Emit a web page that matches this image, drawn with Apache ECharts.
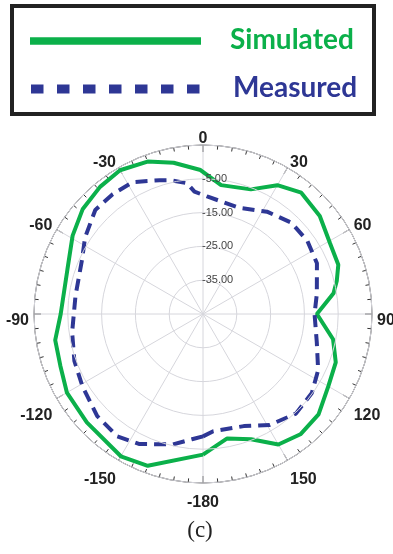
<!DOCTYPE html>
<html>
<head>
<meta charset="utf-8">
<script src="https://cdn.jsdelivr.net/npm/echarts@6/dist/echarts.min.js"></script>
<style>
  html, body { margin: 0; padding: 0; background: #fff; }
  #chart { width: 393px; height: 554px; }
</style>
</head>
<body>
<div id="chart"></div>
<script>
// series names (legend)
const seriesNames = ['Simulated', 'Measured'];

// simulated pattern: angle (deg) / gain (dB)
const simAngles = [-180, -160, -150, -133, -120, -110, -100, -90, -72, -59, -49, -39, -30, -20, -11, -1,
  8, 21, 30, 39, 50, 61, 70, 76, 81, 90, 101, 110, 120, 131, 141, 150, 159, 169, 180];
const simGain = [-3.4, 2.8, 3.6, 2.0, 1.5, -0.1, -0.6, -2.9, -2.8, 0.0, 2.2, 3.4, 4.1, 3.0, 0.6, -2.4,
  -6.5, -5.5, -1.0, 1.2, 0.1, -2.0, -2.4, -4.2, -5.9, -11.3, -5.8, -3.2, -2.2, 0.3, 0.8, -0.4, -5.3, -7.5, -3.4];

// measured pattern
const measAngles = [-180, -175, -167, -163, -154, -145, -134, -121, -110, -98, -82, -66, -57, -46, -37, -28,
  -18, -14, -7, -4, 2, 19, 32, 44, 55, 66, 80, 90, 104, 116, 126, 137, 149, 160, 175, 180];
const measGain = [-8.8, -7.8, -5.4, -4.7, -2.2, -0.8, -1.5, -3.4, -4.5, -5.9, -6.9, -5.8, -3.4, -0.7, -0.6, -0.8,
  -3.4, -4.2, -6.0, -8.7, -10.2, -11.8, -9.3, -7.4, -7.3, -8.1, -10.8, -12.0, -10.3, -7.1, -5.2, -4.7, -6.7, -9.7, -10.2, -8.8];

// radial axis (dB) and angular axis ticks
const radiusMin = -45, radiusMax = 5, radiusStep = 10;
const angleStep = 30;

const green = '#0bb04a';
const blue = '#2e3795';
const labelFont = 'Liberation Sans, Arial, sans-serif';

// polar series data: [radius, angle], negative angles wrap onto 0..360
const toPolar = (angles, gains) => angles.map((a, i) => [gains[i], a < 0 ? a + 360 : a]);
const angleLabel = (v) => (v === 180 ? '-180' : v > 180 ? String(v - 360) : String(v));

const chart = echarts.init(document.getElementById('chart'));

chart.setOption({
  animation: false,
  // second polar only carries the angle labels, sitting a bit lower like the original
  polar: [
    { center: [203, 314], radius: 169 },
    { center: [203, 321], radius: 169 },
  ],
  angleAxis: [
    {
      polarIndex: 0,
      type: 'value',
      min: 0,
      max: 360,
      interval: angleStep,
      startAngle: 90,
      clockwise: true,
      axisLine: { lineStyle: { color: '#333', width: 1 } },
      axisTick: { inside: true, length: 7, lineStyle: { color: '#333' } },
      minorTick: { show: true, splitNumber: 6, length: 4, lineStyle: { color: '#333' } },
      splitLine: { lineStyle: { color: '#d6d6dc', width: 1 } },
      axisLabel: { show: false },
    },
    {
      polarIndex: 1,
      type: 'value',
      min: 0,
      max: 360,
      interval: angleStep,
      startAngle: 90,
      clockwise: true,
      axisLine: { show: false },
      axisTick: { show: false },
      splitLine: { show: false },
      axisLabel: {
        margin: 5,
        fontFamily: labelFont,
        fontWeight: 'bold',
        fontSize: 16,
        color: '#222',
        formatter: angleLabel,
      },
    },
  ],
  radiusAxis: [
    {
      polarIndex: 0,
      type: 'value',
      min: radiusMin,
      max: radiusMax,
      interval: radiusStep,
      axisLine: { show: false },
      axisTick: { show: false },
      splitLine: { lineStyle: { color: '#d6d6dc', width: 1 } },
      axisLabel: {
        showMinLabel: false,
        showMaxLabel: false,
        margin: 1,
        align: 'left',
        fontFamily: labelFont,
        fontSize: 11,
        color: '#444',
        formatter: (v) => v.toFixed(2),
      },
      z: 5,
    },
    {
      polarIndex: 1,
      type: 'value',
      min: radiusMin,
      max: radiusMax,
      show: false,
    },
  ],
  series: [
    {
      name: seriesNames[0],
      type: 'line',
      coordinateSystem: 'polar',
      polarIndex: 0,
      symbol: 'none',
      data: toPolar(simAngles, simGain),
      lineStyle: { color: green, width: 4 },
      z: 3,
    },
    {
      name: seriesNames[1],
      type: 'line',
      coordinateSystem: 'polar',
      polarIndex: 0,
      symbol: 'none',
      data: toPolar(measAngles, measGain),
      lineStyle: { color: blue, width: 4, type: [12, 7] },
      z: 4,
    },
  ],
  graphic: [
    {
      type: 'rect',
      shape: { x: 12, y: 6, width: 362, height: 108 },
      style: { fill: '#fff', stroke: '#222', lineWidth: 4 },
    },
    {
      type: 'line',
      shape: { x1: 30, y1: 41, x2: 201, y2: 41 },
      style: { stroke: green, lineWidth: 7.5 },
    },
    {
      type: 'line',
      shape: { x1: 31, y1: 89, x2: 201, y2: 89 },
      style: { stroke: blue, lineWidth: 9, lineDash: [12.5, 13.5] },
    },
    {
      type: 'text',
      x: 230, y: 40,
      style: {
        text: seriesNames[0], fill: green, font: 'bold 28px Lato, sans-serif',
        verticalAlign: 'middle',
      },
    },
    {
      type: 'text',
      x: 233, y: 88,
      style: {
        text: seriesNames[1], fill: blue, font: 'bold 28px Lato, sans-serif',
        verticalAlign: 'middle',
      },
    },
    {
      type: 'text',
      x: 200, y: 531,
      style: {
        text: '(c)', fill: '#222', font: '23px "Liberation Serif", serif',
        align: 'center', verticalAlign: 'middle',
      },
    },
  ],
});
</script>
</body>
</html>
